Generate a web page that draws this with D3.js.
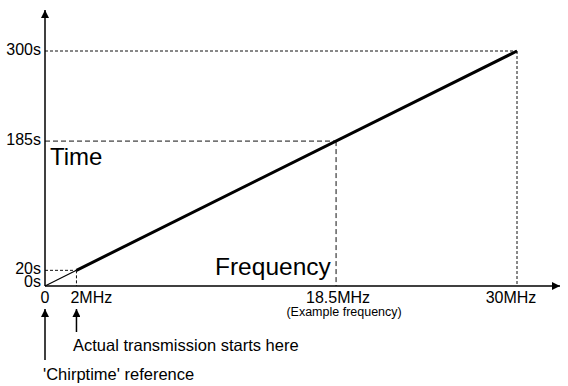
<!DOCTYPE html>
<html>
<head>
<meta charset="utf-8">
<script src="https://cdn.jsdelivr.net/npm/d3@7"></script>
<style>
  body { margin: 0; background: #fff; }
  text { font-family: "Liberation Sans", Arial, sans-serif; fill: #000; }
</style>
</head>
<body>
<svg id="chart" width="568" height="386"></svg>
<script>
// chirp sweep: frequency (MHz) vs time (s)
var freqTicks = [0, 2, 18.5, 30]
var freqLabels = ["0", "2MHz", "18.5MHz", "30MHz"]
var timeTicks = [0, 20, 185, 300]
var timeLabels = ["0s", "20s", "185s", "300s"]

var sweepFreq = [0, 2, 30]
var sweepTime = [0, 20, 300]

// guide points (dashed drop lines)
var guideFreq = [2, 18.5, 30]
var guideTime = [20, 185, 300]
var guideDash = ["3,2", "5,3", "3,2"]

var svg = d3.select("#chart")

var x = d3.scaleLinear().domain([0, 30]).range([45, 517])
var y = d3.scaleLinear().domain([0, 300]).range([286, 51])

var defs = svg.append("defs")
defs.append("marker")
  .attr("id", "arrow")
  .attr("viewBox", "0 0 10 10")
  .attr("refX", 10).attr("refY", 5)
  .attr("markerWidth", 9).attr("markerHeight", 8)
  .attr("markerUnits", "userSpaceOnUse")
  .attr("orient", "auto")
  .append("path")
  .attr("d", "M0,0 L10,5 L0,10 Z")
  .attr("fill", "#000")

// guide lines
guideFreq.forEach(function (f, i) {
  svg.append("line")
    .attr("x1", x(0)).attr("x2", x(f))
    .attr("y1", y(guideTime[i])).attr("y2", y(guideTime[i]))
    .attr("stroke", "#111").attr("stroke-width", 1)
    .attr("stroke-dasharray", guideDash[i])
  svg.append("line")
    .attr("x1", x(f)).attr("x2", x(f))
    .attr("y1", y(guideTime[i])).attr("y2", y(0))
    .attr("stroke", "#111").attr("stroke-width", 1)
    .attr("stroke-dasharray", guideDash[i])
})

// axes
svg.append("line")
  .attr("x1", x(0)).attr("y1", y(0))
  .attr("x2", x(0)).attr("y2", 10)
  .attr("stroke", "#000").attr("stroke-width", 1.5)
  .attr("marker-end", "url(#arrow)")
svg.append("line")
  .attr("x1", x(0)).attr("y1", y(0))
  .attr("x2", 560).attr("y2", y(0))
  .attr("stroke", "#000").attr("stroke-width", 1.5)
  .attr("marker-end", "url(#arrow)")

// sweep line: thin before transmission, thick after
svg.append("line")
  .attr("x1", x(sweepFreq[0])).attr("y1", y(sweepTime[0]))
  .attr("x2", x(sweepFreq[1])).attr("y2", y(sweepTime[1]))
  .attr("stroke", "#000").attr("stroke-width", 1.2)
svg.append("line")
  .attr("x1", x(sweepFreq[1])).attr("y1", y(sweepTime[1]))
  .attr("x2", x(sweepFreq[2])).attr("y2", y(sweepTime[2]))
  .attr("stroke", "#000").attr("stroke-width", 3)

// y tick labels
svg.selectAll(".ylab")
  .data(timeTicks)
  .enter().append("text")
  .attr("class", "ylab")
  .attr("x", 41)
  .attr("y", function (d) { return y(d) + (d == 0 ? 1 : 4) })
  .attr("text-anchor", "end")
  .style("font-size", "16px")
  .text(function (d, i) { return timeLabels[i] })

// x tick labels
svg.selectAll(".xlab")
  .data(freqTicks)
  .enter().append("text")
  .attr("class", "xlab")
  .attr("x", function (d) { return d == 2 ? x(d) - 6 : x(d) - (d == 0 ? 0 : (d == 30 ? 6 : -2)) })
  .attr("y", 303)
  .attr("text-anchor", function (d) { return d == 2 ? "start" : "middle" })
  .style("font-size", "16px")
  .text(function (d, i) { return freqLabels[i] })

svg.append("text")
  .attr("x", x(18.5) + 8).attr("y", 316)
  .attr("text-anchor", "middle")
  .style("font-size", "12.5px")
  .text("(Example frequency)")

// axis titles
svg.append("text")
  .attr("x", 50).attr("y", 165)
  .style("font-size", "24px")
  .text("Time")
svg.append("text")
  .attr("x", 215).attr("y", 275)
  .style("font-size", "24.5px")
  .text("Frequency")

// annotation arrows
svg.append("line")
  .attr("x1", x(0)).attr("y1", 360)
  .attr("x2", x(0)).attr("y2", 309)
  .attr("stroke", "#000").attr("stroke-width", 1.5)
  .attr("marker-end", "url(#arrow)")
svg.append("line")
  .attr("x1", x(2)).attr("y1", 332)
  .attr("x2", x(2)).attr("y2", 309)
  .attr("stroke", "#000").attr("stroke-width", 1.5)
  .attr("marker-end", "url(#arrow)")

svg.append("text")
  .attr("x", 73).attr("y", 351)
  .style("font-size", "16.5px")
  .text("Actual transmission starts here")
svg.append("text")
  .attr("x", 43).attr("y", 380)
  .style("font-size", "16.5px")
  .text("'Chirptime' reference")
</script>
</body>
</html>
